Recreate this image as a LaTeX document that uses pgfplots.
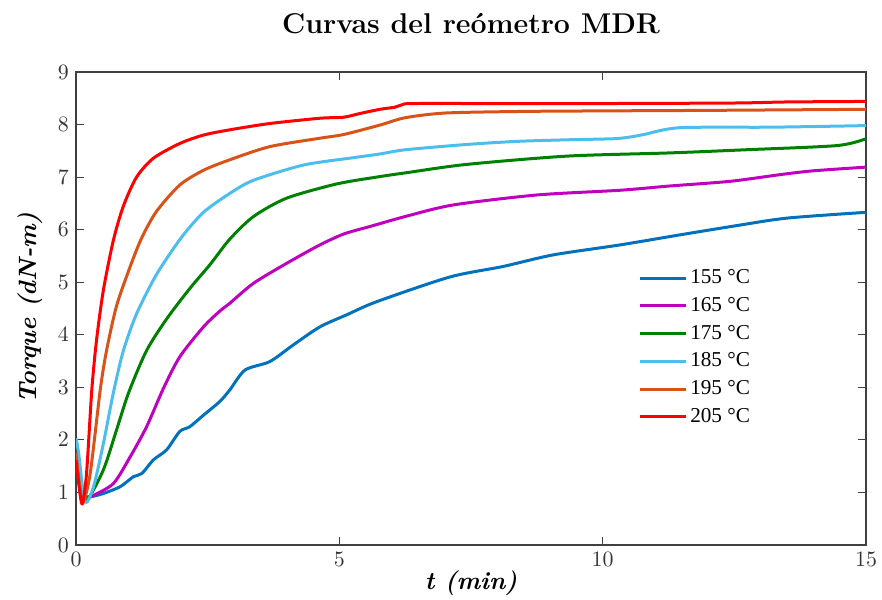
\documentclass[border=0pt]{standalone}
\usepackage{fontspec}
\usepackage{pgfplots}
\pgfplotsset{compat=1.18}
\usetikzlibrary{calc}
\newfontfamily\legfont{Liberation Serif}
\definecolor{c155}{rgb}{0,0.447,0.741}
\definecolor{c165}{rgb}{0.75,0,0.75}
\definecolor{c175}{rgb}{0,0.5,0}
\definecolor{c185}{rgb}{0.3,0.745,0.933}
\definecolor{c195}{rgb}{0.85,0.325,0.098}
\definecolor{c205}{rgb}{1,0,0}
\begin{document}
\begin{tikzpicture}
\begin{axis}[
  name=ax,
  scale only axis,
  width=395pt, height=236.5pt,
  xmin=0, xmax=15, ymin=0, ymax=9,
  xtick={0,5,10,15}, ytick={0,1,...,9},
  tick align=inside,
  major tick length=4pt,
  axis line style={black!75, line width=0.6pt},
  tick style={black!75, line width=0.6pt},
  ticklabel style={black!80, font=\fontsize{10.5}{12}\selectfont},
  title={Curvas del reómetro MDR},
  title style={at={(axis description cs:0.5,1.055)}, anchor=base, font=\fontsize{14.3}{16}\selectfont\bfseries},
  xlabel={\textit{t (min)}},
  xlabel style={at={(axis description cs:0.5,-0.095)}, anchor=base, font=\fontsize{12.5}{14}\selectfont\bfseries\itshape},
  ylabel={Torque (dN-m)},
  ylabel style={at={(axis description cs:-0.05,0.5)}, anchor=base, rotate=0, font=\fontsize{12.5}{14}\selectfont\bfseries\itshape},
  legend style={draw=none, fill=none, at={(axis description cs:0.712,0.588)}, anchor=north west,
    font=\legfont\fontsize{10.6}{12}\selectfont, row sep=2.9pt, inner sep=0pt,
    nodes={inner sep=1.2pt}},
  legend cell align=left,
  legend image code/.code={\draw[#1] (0pt,0pt) -- (23pt,0pt);},
  every axis plot/.append style={line width=1.5pt, line join=round, smooth, tension=0.45},
]
\addplot[c155] coordinates {
(0.2,0.9) (0.3,0.92) (0.52,0.98) (0.84,1.11) (1.09,1.30) (1.25,1.36) (1.47,1.62)
(1.72,1.81) (1.97,2.16) (2.16,2.25) (2.42,2.47) (2.73,2.73) (2.92,2.95) (3.21,3.33)
(3.68,3.49) (4.13,3.81) (4.63,4.15) (5.14,4.38) (5.71,4.63) (7.1,5.10) (8.11,5.30)
(9.06,5.52) (10.33,5.71) (11.46,5.90) (12.5,6.07) (13.5,6.22) (15,6.33)};
\addlegendentry{155 °C}
\addplot[c165] coordinates {
(0.2,0.92) (0.3,0.93) (0.71,1.17) (1.03,1.68) (1.34,2.25) (1.66,2.98) (1.97,3.58)
(2.42,4.15) (2.73,4.45) (2.92,4.6) (3.37,4.98) (4.0,5.36) (4.63,5.71) (5.09,5.92)
(5.58,6.06) (6.25,6.25) (7.16,6.47) (8.75,6.66) (10.33,6.75) (11.26,6.83)
(12.42,6.92) (13.39,7.05) (14.0,7.12) (15,7.19)};
\addlegendentry{165 °C}
\addplot[c175] coordinates {
(0,1.68) (0.08,1.2) (0.2,0.85) (0.52,1.43) (0.77,2.19) (1.0,2.9) (1.34,3.7)
(1.72,4.3) (2.16,4.88) (2.54,5.33) (2.92,5.82) (3.37,6.25) (4.0,6.6) (4.95,6.87)
(5.77,7.01) (6.25,7.08) (7.4,7.24) (9.33,7.40) (11.26,7.46) (12.71,7.52)
(14.45,7.6) (15,7.73)};
\addlegendentry{175 °C}
\addplot[c185] coordinates {
(0,2.03) (0.05,1.75) (0.17,0.82) (0.33,1.1) (0.52,1.93) (0.71,2.9) (0.9,3.7)
(1.15,4.4) (1.53,5.15) (2.0,5.85) (2.42,6.33) (2.92,6.69) (3.37,6.94) (4.32,7.23)
(5.27,7.37) (5.77,7.44) (6.25,7.52) (7.4,7.62) (8.37,7.68) (9.33,7.71) (10.2,7.73)
(10.5,7.76) (10.78,7.81) (11.46,7.94) (13.2,7.95) (15,7.98)};
\addlegendentry{185 °C}
\addplot[c195] coordinates {
(0,1.75) (0.06,1.2) (0.13,0.8) (0.27,1.36) (0.46,2.95) (0.58,3.7) (0.77,4.55)
(1.03,5.3) (1.25,5.85) (1.53,6.35) (1.97,6.85) (2.42,7.13) (2.92,7.33) (3.68,7.58)
(4.63,7.74) (5.08,7.81) (5.77,7.99) (6.25,8.13) (7.02,8.22) (8.5,8.25) (10,8.26)
(12,8.27) (15,8.29)};
\addlegendentry{195 °C}
\addplot[c205] coordinates {
(0,1.62) (0.06,1.1) (0.12,0.78) (0.2,1.36) (0.3,2.95) (0.39,3.9) (0.52,4.85)
(0.71,5.8) (0.9,6.45) (1.15,7.0) (1.47,7.36) (1.97,7.64) (2.42,7.8) (2.92,7.9)
(3.68,8.02) (4.63,8.12) (5.08,8.14) (5.39,8.21) (5.77,8.29) (6.05,8.33) (6.2,8.38)
(6.4,8.40) (8,8.40) (10,8.40) (12.5,8.41) (13.5,8.43) (15,8.44)};
\addlegendentry{205 °C}
\end{axis}
\pgfresetboundingbox
\path[use as bounding box] ($(ax.south west)+(-38pt,-27pt)$) rectangle ($(ax.north east)+(8pt,36pt)$);
\end{tikzpicture}
\end{document}
